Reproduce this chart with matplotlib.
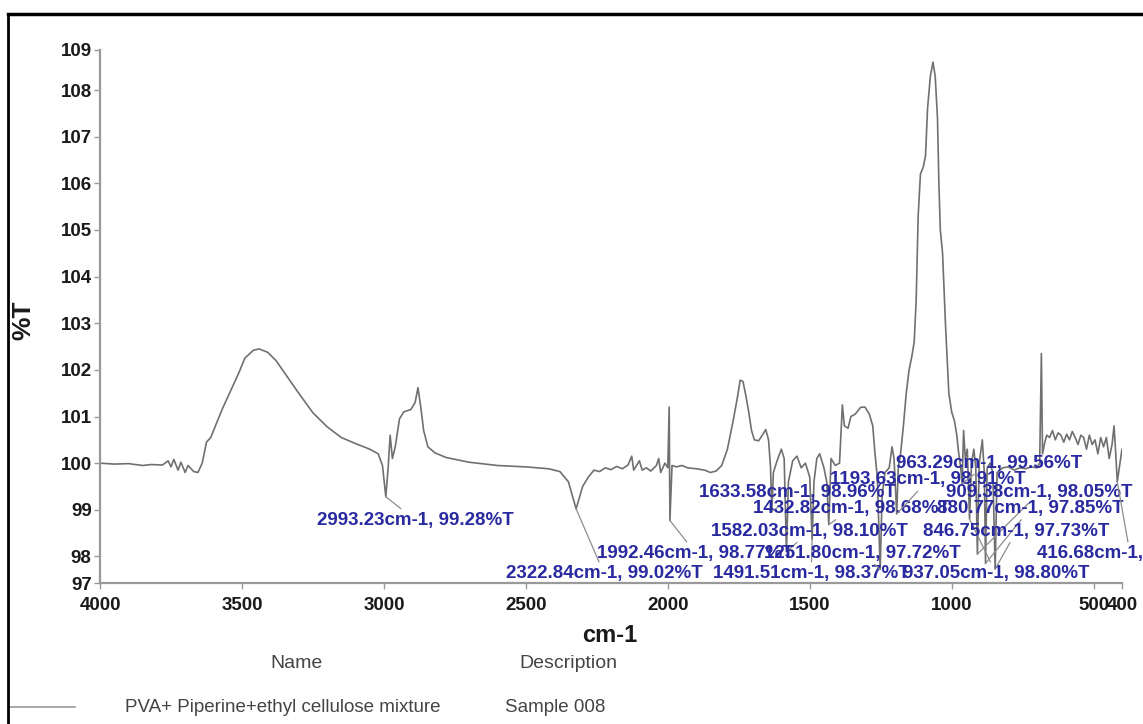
import numpy as np
import matplotlib.pyplot as plt
from matplotlib.lines import Line2D

plt.rcParams['font.family'] = ['Liberation Sans', 'DejaVu Sans']

# FTIR spectrum (cm-1, %T)
wavenumber = [4000, 3950, 3900, 3850, 3820, 3780, 3760, 3750, 3740, 3725, 3715, 3700,
              3690, 3670, 3655, 3640, 3625, 3610, 3600, 3590, 3570, 3540, 3510, 3490,
              3460, 3440, 3410, 3380, 3340, 3300, 3250, 3200, 3150, 3100, 3050, 3020,
              3005, 2993.23, 2985, 2978, 2970, 2960, 2945, 2930, 2905, 2890, 2880, 2870,
              2860, 2845, 2820, 2780, 2700, 2600, 2500, 2420, 2380, 2350, 2322.84, 2300,
              2280, 2260, 2240, 2220, 2200, 2180, 2160, 2140, 2127, 2120, 2100, 2090,
              2075, 2060, 2040, 2032, 2025, 2010, 2000, 1995, 1992.46, 1985, 1970, 1950,
              1930, 1900, 1870, 1850, 1830, 1810, 1790, 1770, 1755, 1745, 1735, 1725,
              1715, 1705, 1695, 1680, 1665, 1655, 1645, 1638, 1633.58, 1628, 1615, 1600,
              1590, 1582.03, 1575, 1560, 1545, 1530, 1515, 1500, 1491.51, 1485, 1475, 1465,
              1450, 1440, 1432.82, 1425, 1410, 1395, 1385, 1378, 1365, 1355, 1340, 1320,
              1305, 1290, 1278, 1270, 1262, 1251.80, 1245, 1235, 1220, 1210, 1203, 1193.63,
              1188, 1180, 1170, 1160, 1150, 1140, 1132, 1125, 1118, 1110, 1100, 1092,
              1085, 1075, 1066, 1058, 1050, 1045, 1040, 1032, 1022, 1010, 1000, 990,
              982, 975, 968, 963.29, 958, 952, 945, 937.05, 930, 922, 915, 909.38,
              903, 892, 885, 880.77, 875, 865, 855, 846.75, 840, 820, 800, 780,
              760, 740, 720, 700, 690, 684, 680, 672, 665, 655, 645, 635,
              625, 615, 605, 595, 585, 575, 565, 555, 545, 535, 525, 515,
              505, 495, 485, 475, 465, 455, 445, 435, 428, 422, 416.68, 405, 400]
transmittance = [100.0, 99.98, 99.99, 99.95, 99.97, 99.96, 100.05, 99.92, 100.08, 99.85, 100.02, 99.80,
                 99.95, 99.82, 99.80, 100.0, 100.45, 100.55, 100.7, 100.85, 101.15, 101.55, 101.95, 102.25,
                 102.42, 102.45, 102.38, 102.2, 101.85, 101.5, 101.08, 100.78, 100.55, 100.42, 100.3, 100.2,
                 99.95, 99.28, 99.9, 100.6, 100.1, 100.35, 100.95, 101.1, 101.15, 101.3, 101.62, 101.2,
                 100.7, 100.35, 100.22, 100.12, 100.02, 99.95, 99.92, 99.88, 99.82, 99.6, 99.02, 99.5,
                 99.7, 99.85, 99.82, 99.9, 99.86, 99.93, 99.88, 99.96, 100.15, 99.85, 100.05, 99.85,
                 99.9, 99.83, 99.95, 100.1, 99.8, 100.0, 99.9, 101.2, 98.77, 99.95, 99.92, 99.95,
                 99.9, 99.88, 99.85, 99.8, 99.83, 99.95, 100.3, 100.9, 101.4, 101.78, 101.75, 101.45,
                 101.1, 100.7, 100.5, 100.48, 100.62, 100.72, 100.5, 99.9, 98.96, 99.8, 100.05, 100.3,
                 100.1, 98.10, 99.6, 100.05, 100.15, 99.9, 100.0, 99.7, 98.37, 99.6, 100.1, 100.2,
                 99.9, 99.6, 98.68, 100.1, 99.95, 100.0, 101.25, 100.8, 100.75, 101.0, 101.05, 101.2,
                 101.2, 101.05, 100.8, 100.2, 99.7, 97.72, 99.3, 99.8, 99.9, 100.35, 100.1, 98.91,
                 99.9, 100.2, 100.8, 101.5, 102.0, 102.3, 102.6, 103.5, 105.3, 106.2, 106.35, 106.6,
                 107.6, 108.3, 108.6, 108.3, 107.4, 106.0, 105.0, 104.5, 103.0, 101.5, 101.1, 100.9,
                 100.6, 100.2, 99.9, 99.56, 100.7, 100.1, 100.3, 98.80, 100.0, 100.3, 99.9, 98.05,
                 100.0, 100.5, 99.8, 97.85, 99.9, 100.0, 99.8, 97.73, 99.8, 99.9, 99.92, 99.85,
                 99.9, 99.88, 99.92, 99.9, 100.0, 102.35, 100.2, 100.45, 100.6, 100.55, 100.7, 100.5,
                 100.65, 100.6, 100.45, 100.62, 100.5, 100.68, 100.55, 100.4, 100.6, 100.55, 100.3, 100.6,
                 100.4, 100.5, 100.2, 100.55, 100.35, 100.55, 100.1, 100.4, 100.8, 100.2, 99.6, 100.1, 100.3]

# peaks picked by the instrument software
peak_cm = [2993.23, 2322.84, 1992.46, 1633.58, 1582.03, 1491.51, 1432.82, 1251.80,
           1193.63, 963.29, 937.05, 909.38, 880.77, 846.75, 416.68]
peak_T = [99.28, 99.02, 98.77, 98.96, 98.10, 98.37, 98.68, 97.72,
          98.91, 99.56, 98.80, 98.05, 97.85, 97.73, 99.60]
# where each peak label sits (centre, in cm-1 / %T)
label_cm = [2890, 2225, 1902, 1544, 1500, 1495, 1354, 1315,
            1083, 869, 844, 690, 722, 772, 372]
label_T = [98.78, 97.64, 98.07, 99.38, 98.54, 97.64, 99.03, 98.07,
           99.64, 100.0, 97.64, 99.38, 99.03, 98.54, 98.07]

xticks = [4000, 3500, 3000, 2500, 2000, 1500, 1000, 500, 400]
ylo, yhi = 97.43, 108.86

fig = plt.figure(figsize=(11.43, 7.24), dpi=100)
ax = fig.add_axes([100 / 1143, 1 - 583 / 724, 1022 / 1143, 533 / 724])

ax.plot(wavenumber, transmittance, color='#707070', lw=1.2)

for w, t, lx, ly in zip(peak_cm, peak_T, label_cm, label_T):
    ax.annotate(f'{w:.2f}cm-1, {t:.2f}%T', xy=(w, t), xytext=(lx, ly),
                ha='center', va='center', fontsize=13.5, fontweight='bold',
                color='#2a2aa0', annotation_clip=False,
                arrowprops=dict(arrowstyle='-', color='#8c8c8c', lw=0.9,
                                shrinkA=0, shrinkB=0))

ax.set_xlim(4000, 400)
ax.set_ylim(ylo, yhi)
ax.set_xticks(xticks)
ax.set_xticklabels([str(v) for v in xticks])
yt = [ylo] + list(range(98, 109)) + [yhi]
ax.set_yticks(yt)
ax.set_yticklabels([f'{v:.0f}' for v in yt])
for lab in ax.get_xticklabels() + ax.get_yticklabels():
    lab.set_fontweight('bold')

for s in ['top', 'right']:
    ax.spines[s].set_visible(False)
for s in ['left', 'bottom']:
    ax.spines[s].set_color('#999999')
    ax.spines[s].set_linewidth(1.6)
ax.tick_params(axis='both', colors='#999999', labelcolor='#1a1a1a', labelsize=13.5,
               length=4, width=1)
ax.tick_params(axis='y', pad=2)
ax.tick_params(axis='x', pad=6)

fig.text(23 / 1143, 1 - 320 / 724, '%T', rotation=90, fontsize=19, fontweight='bold',
         ha='center', va='center', color='#1a1a1a')
fig.text(610 / 1143, 1 - 636 / 724, 'cm-1', fontsize=17, fontweight='bold',
         ha='center', va='center', color='#1a1a1a')

# legend table under the plot
fig.text(297 / 1143, 1 - 664 / 724, 'Name', fontsize=14, ha='center', va='center', color='#444444')
fig.text(568 / 1143, 1 - 664 / 724, 'Description', fontsize=14, ha='center', va='center', color='#444444')
fig.add_artist(Line2D([10 / 1143, 75 / 1143], [1 - 707 / 724] * 2, color='#999999', lw=1.2,
                      transform=fig.transFigure))
fig.text(125 / 1143, 1 - 707 / 724, 'PVA+ Piperine+ethyl cellulose mixture', fontsize=13.5,
         ha='left', va='center', color='#444444')
fig.text(505 / 1143, 1 - 707 / 724, 'Sample 008', fontsize=13.5, ha='left', va='center', color='#444444')

# frame around the whole panel
fig.add_artist(Line2D([8 / 1143, 1], [1 - 14 / 724] * 2, color='black', lw=2.5,
                      transform=fig.transFigure))
fig.add_artist(Line2D([8 / 1143] * 2, [0, 1 - 14 / 724], color='black', lw=2,
                      transform=fig.transFigure))

fig.savefig('out.png', dpi=100)
